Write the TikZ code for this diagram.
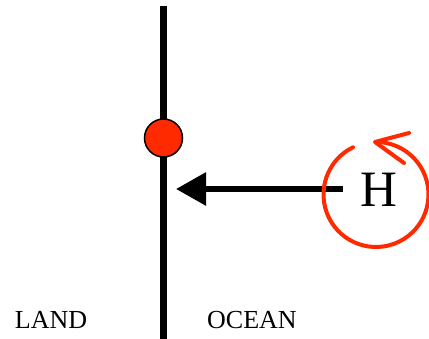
\documentclass[tikz,border=0pt]{standalone}
\usepackage{fontspec}
\setmainfont{Liberation Serif}
\usetikzlibrary{arrows.meta}
\definecolor{hred}{RGB}{255,42,0}
\begin{document}
\begin{tikzpicture}[x=1pt,y=1pt,
  lbl/.style={font=\fontsize{26}{26}\selectfont, inner sep=0pt},
  redline/.style={draw=hred, line width=4pt, line cap=round, line join=round}]
\useasboundingbox (0,0) rectangle (429,339);
% coast line
\coordinate (ctop) at (163.5,333);
\coordinate (cbot) at (163.5,0);
\draw[line width=7.5pt] (ctop) -- (cbot);
% red dot
\node[circle, fill=hred, draw=black, line width=1.5pt, minimum size=38pt, inner sep=0pt] (dot) at (163.5,201) {};
% H
\node[font=\fontsize{51}{51}\selectfont, inner sep=0pt] (H) at (378.5,149) {H};
\coordinate (astart) at (343,150);
\coordinate (atip) at (176,150);
\draw[line width=6pt, -{Triangle[length=30pt,width=32pt]}] (astart) -- (atip);
% circulation
\draw[redline] (376,144.5) ++(116:52.5) arc[start angle=116, end angle=448, radius=52.5];
\coordinate (w1) at (409,206);
\coordinate (wtip) at (375,197);
\coordinate (w2) at (404,176);
\draw[redline] (w1) -- (wtip) -- (w2);
% labels
\node[lbl] (land) at (51,19) {LAND};
\node[lbl] (ocean) at (252,19) {OCEAN};
\end{tikzpicture}
\end{document}
